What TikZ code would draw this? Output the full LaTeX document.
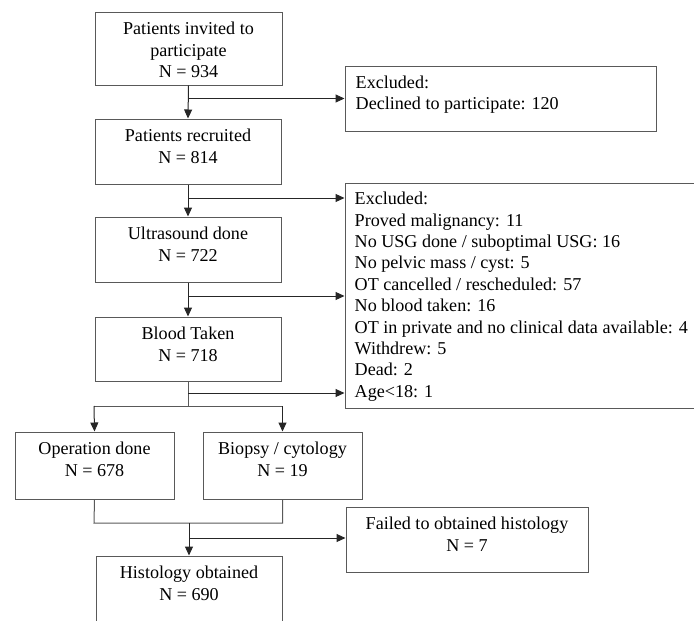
\documentclass[tikz,border=0pt]{standalone}
\usepackage{fontspec}
\setmainfont{Liberation Serif}
\usetikzlibrary{arrows.meta,calc}
\begin{document}
\begin{tikzpicture}[x=1pt,y=-1pt,
  box/.style={draw=black!65,line width=1pt,fill=white,inner sep=0pt},
  ctext/.style={anchor=north,align=center,inner sep=0pt,font=\fontsize{18.1}{21.4}\selectfont},
  ltext/.style={anchor=north west,align=left,inner sep=0pt,font=\fontsize{18.1}{21.4}\selectfont},
  link/.style={draw=black!65,line width=1pt},
  arr/.style={draw=black!85,line width=1pt,-{Triangle[length=9pt,width=8pt]}}]
\useasboundingbox (0,0) rectangle (694,621);
\clip (0,0) rectangle (694,621);
% boxes
\node[box,minimum width=187pt,minimum height=73pt] (b1) at (188.5,48.5) {};
\node[box,minimum width=186pt,minimum height=65pt] (b2) at (188,151.5) {};
\node[box,minimum width=186pt,minimum height=65pt] (b3) at (188,249.5) {};
\node[box,minimum width=186pt,minimum height=64pt] (b4) at (188,349) {};
\node[box,minimum width=159pt,minimum height=67pt] (b5) at (94.5,465.5) {};
\node[box,minimum width=159pt,minimum height=67pt] (b6) at (282.5,465.5) {};
\node[box,minimum width=186pt,minimum height=72pt] (b7) at (189,592) {};
\node[box,minimum width=242pt,minimum height=65pt] (f) at (467,539.5) {};
\node[box,minimum width=311pt,minimum height=65pt] (e1) at (500.5,98.5) {};
\node[box,minimum width=375pt,minimum height=225pt] (e2) at (532.5,295.5) {};
% texts
\node[ctext] (t1) at ([yshift=-8.3pt]b1.north) {\strut Patients invited to\\participate\\N = 934};
\node[ctext] (t2) at ([yshift=-8.3pt]b2.north) {\strut Patients recruited\\N = 814};
\node[ctext] (t3) at ([yshift=-8.3pt]b3.north) {\strut Ultrasound done\\N = 722};
\node[ctext] (t4) at ([yshift=-8.3pt]b4.north) {\strut Blood Taken\\N = 718};
\node[ctext] (t5) at ([yshift=-8.3pt]b5.north) {\strut Operation done\\N = 678};
\node[ctext] (t6) at ([yshift=-8.3pt]b6.north) {\strut Biopsy / cytology\\N = 19};
\node[ctext] (t7) at ([yshift=-8.3pt]b7.north) {\strut Histology obtained\\N = 690};
\node[ctext] (tf) at ([yshift=-8.3pt]f.north) {\strut Failed to obtained histology\\N = 7};
\node[ltext] (te1) at ([xshift=11pt,yshift=-7.5pt]e1.north west) {\strut Excluded:\\Declined to participate: 120};
\node[ltext] (te2) at ([xshift=10pt,yshift=-7pt]e2.north west) {\strut Excluded:\\Proved malignancy: 11\\No USG done / suboptimal USG: 16\\No pelvic mass / cyst: 5\\OT cancelled / rescheduled: 57\\No blood taken: 16\\OT in private and no clinical data available: 4\\Withdrew: 5\\Dead: 2\\Age<18: 1};
% junction coordinates
\coordinate (j2) at (188,198);
\coordinate (j3) at (188,296);
\coordinate (j4) at (188,393);
\coordinate (s4) at (188,406);
\coordinate (sl) at (94,406);
\coordinate (sr) at (282.5,406);
\coordinate (ml) at (94,523);
\coordinate (mr) at (282.5,523);
\coordinate (mc) at (189,523);
\coordinate (j7) at (189,538);
% connectors
\draw[arr] (b1.south) -- (b2.north);
\draw[arr] (b1.south |- e1.west) -- (e1.west);
\draw[arr] (b2.south) -- (b3.north);
\draw[arr] (j2) -- (j2 -| e2.west);
\draw[arr] (b3.south) -- (b4.north);
\draw[arr] (j3) -- (j3 -| e2.west);
\draw[link] (b4.south) -- (s4);
\draw[arr] (j4) -- (j4 -| e2.west);
\draw[link] (sl) -- (sr);
\draw[arr] (sl) -- (b5.north);
\draw[arr] (sr) -- (b6.north);
\draw[link] (b5.south) -- (ml) -- (mr) -- (b6.south);
\draw[arr] (mc) -- (b7.north);
\draw[arr] (j7) -- (j7 -| f.west);
\end{tikzpicture}
\end{document}
